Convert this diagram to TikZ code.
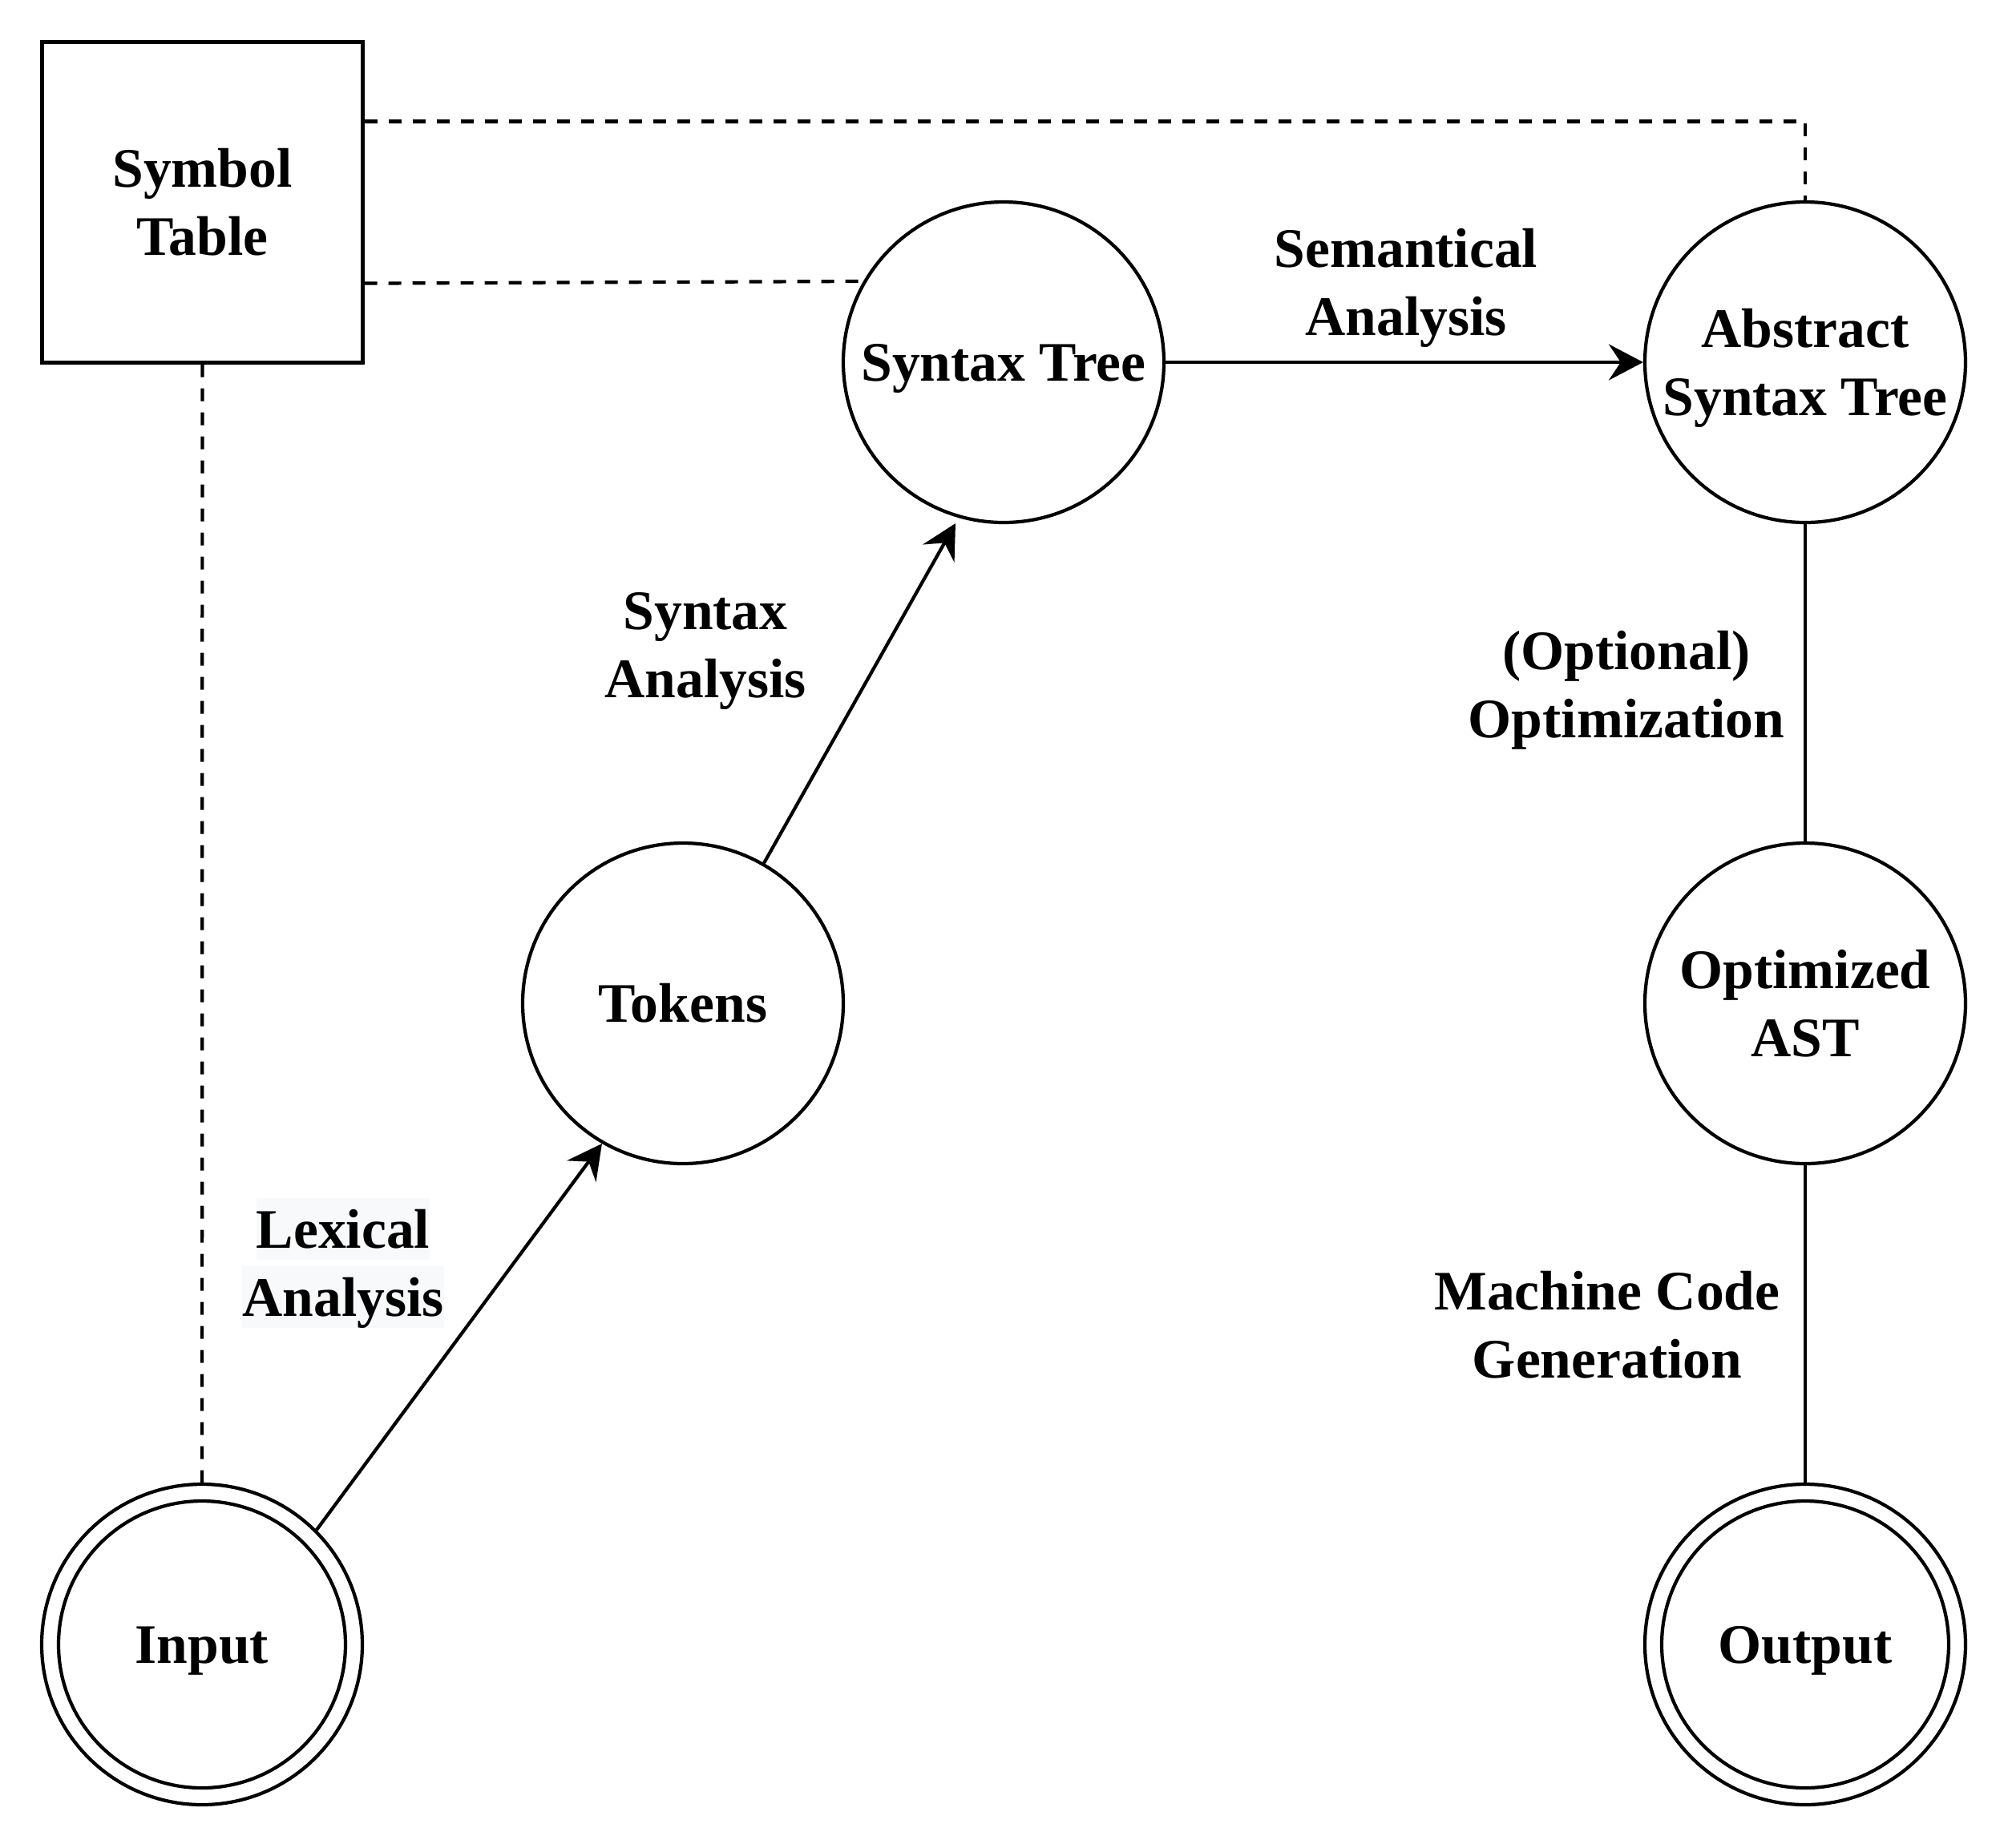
\documentclass[tikz,border=0pt]{standalone}
\usepackage{fontspec}
\setmainfont{Liberation Serif}
\usepackage{xcolor}
\usetikzlibrary{calc, arrows.meta, positioning}

\definecolor{hlgray}{RGB}{248,249,250}
% dòng chữ cao như một dòng HTML
\newcommand{\linestrut}{\rule[-5.4pt]{0pt}{24.2pt}}
% nhãn hai dòng
\newcommand{\twolines}[2]{\linestrut#1\\#2\linestrut}
% nền xám nhạt cho từng dòng nhãn
\newcommand{\hlbox}[1]{{\setlength{\fboxsep}{0pt}\colorbox{hlgray}{\rule[-0.216em]{0pt}{1.107em}#1}}}

\begin{document}
\begin{tikzpicture}[>={Stealth[length=4.3mm, width=4.5mm, inset=1.5mm]},
    every node/.style={font=\fontsize{19.8}{24.2}\selectfont\bfseries, align=center,
        execute at begin node=\linestrut},
    stage/.style={circle, draw, line width=1.2pt, minimum size=4cm, inner sep=0pt},
    symbox/.style={rectangle, draw, line width=1.2pt, minimum size=4cm, inner sep=0pt},
    flow/.style={line width=1.2pt},
    link/.style={line width=1.2pt, dash pattern=on 1.6mm off 1.4mm}]

    % =================================================================
    % 1. KHUNG HÌNH
    % =================================================================
    \useasboundingbox (0,0) rectangle (25.05,-23.05);
    \fill[white] (0,0) rectangle (25.05,-23.05);

    % =================================================================
    % 2. CÁC NÚT CHÍNH
    % =================================================================
    \node[symbox] (sym) at (2.525,-2.525) {\twolines{Symbol}{Table}};
    \node[stage] (st)  at (12.52,-4.52)  {Syntax Tree};
    \node[stage] (ast) at (22.52,-4.52)  {\twolines{Abstract}{Syntax Tree}};
    \node[stage] (tok) at (8.52,-12.52)  {Tokens};
    \node[stage] (opt) at (22.52,-12.52) {\twolines{Optimized}{AST}};
    \node[stage] (inp) at (2.52,-20.52)  {Input};
    \node[stage] (out) at (22.52,-20.52) {Output};

    % Vòng tròn trong cho nút đầu và cuối
    \draw[flow] (inp.center) circle (1.79);
    \draw[flow] (out.center) circle (1.79);

    % =================================================================
    % 3. CÁC ĐƯỜNG NỐI
    % =================================================================
    \coordinate (stIn) at (11.92,-6.53);

    \draw[flow, ->] (inp.45) -- (tok.-120);
    \draw[flow, ->] (tok.60) -- (stIn);
    \draw[flow, ->] (st) -- (ast);
    \draw[flow] (ast) -- (opt);
    \draw[flow] (opt) -- (out);

    % Nét đứt nối với bảng ký hiệu
    \draw[link] ($(sym.north east)!0.25!(sym.south east)$) -| (ast.north);
    \draw[link] ($(sym.north east)!0.75!(sym.south east)$) -- (st.150);
    \draw[link] (sym) -- (inp);

    % =================================================================
    % 4. NHÃN CÁC GIAI ĐOẠN
    % =================================================================
    \node (lexLbl) at (4.28,-15.76) {\twolines{\hlbox{Lexical}}{\hlbox{Analysis}}};
    \node (synLbl) at (8.80,-8.04)  {\twolines{Syntax}{Analysis}};
    \node (semLbl) at (17.54,-3.52) {\twolines{Semantical}{Analysis}};
    \node (optLbl) at (20.29,-8.54) {\twolines{(Optional)}{Optimization}};
    \node (genLbl) at (20.05,-16.53) {\twolines{Machine Code}{Generation}};

\end{tikzpicture}
\end{document}
